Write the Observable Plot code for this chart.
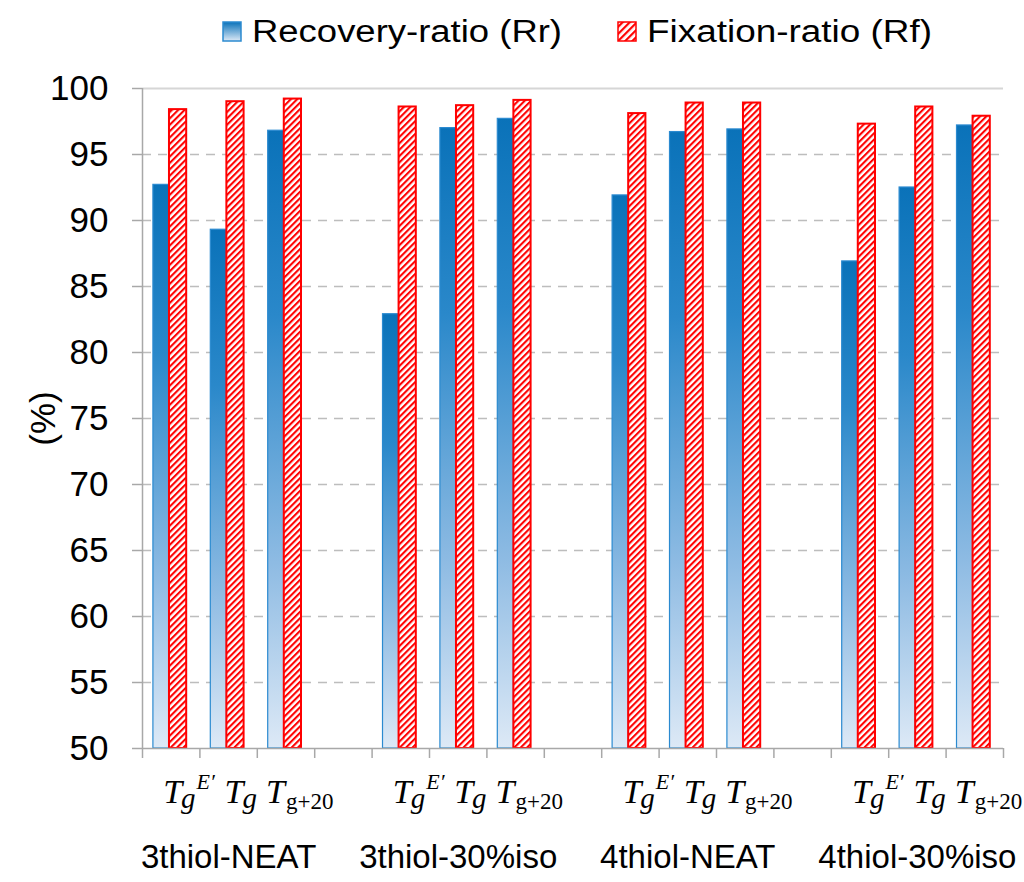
<!DOCTYPE html>
<html>
<head>
<meta charset="utf-8">
<script src="https://cdn.jsdelivr.net/npm/d3@7"></script>
<script src="https://cdn.jsdelivr.net/npm/@observablehq/plot@0.6"></script>
<style>
  body { margin: 0; background: #fff; font-family: "Liberation Sans", Arial, sans-serif; }
  #legend { height: 64px; }
</style>
</head>
<body>
<div id="legend"></div>
<div id="chart"></div>
<script>
// groups, conditions and the two ratios
const groups = ["3thiol-NEAT", "3thiol-30%iso", "4thiol-NEAT", "4thiol-30%iso"];
const condBase = ["T", "T", "T"];
const condSub = ["g", "g", "g+20"];
const condSup = ["E\u2032", "", ""];
const recovery = [
  [92.7, 89.3, 96.8],
  [82.9, 97.0, 97.7],
  [91.9, 96.7, 96.9],
  [86.9, 92.5, 97.2]
];
const fixation = [
  [98.4, 99.0, 99.2],
  [98.6, 98.7, 99.1],
  [98.1, 98.9, 98.9],
  [97.3, 98.6, 97.9]
];
const yTicks = [50, 55, 60, 65, 70, 75, 80, 85, 90, 95, 100];
const seriesNames = ["Recovery-ratio (Rr)", "Fixation-ratio (Rf)"];

// one slot per bar pair, plus an empty slot after each group
let rows = [];
groups.forEach((g, gi) => {
  condBase.forEach((c, ci) => {
    rows.push({group: g, cond: ci, slot: gi * 4 + ci, rr: recovery[gi][ci], rf: fixation[gi][ci]});
  });
});
let slotEdges = d3.range(0, 16);
let groupRows = groups.map((g, gi) => ({group: g, mid: gi * 4 + 1.5}));

let defs = () => {
  let d = d3.create("svg:defs");
  let lg = d.append("linearGradient").attr("id", "rrGrad")
    .attr("x1", 0).attr("y1", 0).attr("x2", 0).attr("y2", 1);
  lg.append("stop").attr("offset", 0).attr("stop-color", "#0a72b9");
  lg.append("stop").attr("offset", 0.3).attr("stop-color", "#2a88ca");
  lg.append("stop").attr("offset", 0.7).attr("stop-color", "#8ebbe3");
  lg.append("stop").attr("offset", 1).attr("stop-color", "#dde9f6");
  let p = d.append("pattern").attr("id", "rfHatch")
    .attr("patternUnits", "userSpaceOnUse")
    .attr("width", 4.5).attr("height", 4.5)
    .attr("patternTransform", "rotate(45)");
  p.append("rect").attr("width", 4.5).attr("height", 4.5).attr("fill", "#fff");
  p.append("line").attr("x1", 1).attr("y1", 0).attr("x2", 1).attr("y2", 4.5)
    .attr("stroke", "#ff0000").attr("stroke-width", 2.2);
  return d.node();
};

let chart = Plot.plot({
  width: 1024,
  height: 818,
  marginLeft: 142,
  marginRight: 21,
  marginTop: 24,
  marginBottom: 134,
  style: {fontFamily: "Liberation Sans, Arial, sans-serif", color: "#000", background: "#fff"},
  x: {domain: [0, 15], axis: null},
  y: {domain: [50, 100], axis: null},
  marks: [
    defs,
    Plot.ruleY(yTicks.filter(t => t > 50 && t < 100), {stroke: "#bdbdbd", strokeWidth: 1.5, strokeDasharray: "9,7"}),
    Plot.ruleY([100], {stroke: "#d6d6d6", strokeWidth: 2}),
    Plot.rectY(rows, {x1: d => d.slot + 0.19, x2: d => d.slot + 0.47, y1: 50, y2: "rr",
      fill: "url(#rrGrad)", stroke: "#2b8ad0", strokeWidth: 1.2}),
    Plot.rectY(rows, {x1: d => d.slot + 0.47, x2: d => d.slot + 0.77, y1: 50, y2: "rf",
      fill: "url(#rfHatch)", stroke: "#ff0000", strokeWidth: 2}),
    Plot.ruleX([0], {stroke: "#a8a8a8", strokeWidth: 1.5}),
    Plot.ruleY([50], {stroke: "#a8a8a8", strokeWidth: 1.5}),
    Plot.axisX({ticks: slotEdges, tickFormat: () => "", tickSize: 10, stroke: "#a8a8a8", strokeWidth: 1.5, label: null}),
    Plot.axisY({ticks: yTicks, tickSize: 10, tickPadding: 24, fontSize: 35, stroke: "#a8a8a8", strokeWidth: 1.5,
      label: "(%)", labelAnchor: "center", labelArrow: "none", labelOffset: 112}),
    Plot.text(rows, {x: d => d.slot + 0.5, text: d => condBase[d.cond], frameAnchor: "bottom",
      dy: 54, lineAnchor: "bottom", textAnchor: "start", fontSize: 34,
      fontFamily: "Liberation Serif, serif", fontStyle: "italic"}),
    Plot.text(groupRows, {x: "mid", text: "group", frameAnchor: "bottom", dy: 119,
      lineAnchor: "bottom", fontSize: 33})
  ]
});

// sub- and superscripts of the condition labels
let condTexts = d3.select(chart).selectAll("text").filter(function() { return this.textContent === "T"; });
condTexts.each(function(_, i) {
  let ci = rows[i].cond;
  let t = d3.select(this);
  t.attr("dx", [-8, -4, -20][ci]);
  let sub = t.append("tspan").attr("dy", ci === 2 ? 6 : 5).attr("dx", ci === 2 ? 1 : -1)
    .attr("font-size", ci === 2 ? 23 : 29).text(condSub[ci]);
  if (ci === 2) sub.attr("font-style", "normal");
  if (condSup[ci]) {
    t.append("tspan").attr("dy", -19).attr("dx", 1).attr("font-size", 22).text(condSup[ci]);
  }
});

d3.select("#chart").append(() => chart);

// legend above the plot
let leg = d3.select("#legend").append("svg").attr("width", 1024).attr("height", 64);
let ld = leg.append("defs");
let lg2 = ld.append("linearGradient").attr("id", "legGrad")
  .attr("x1", 0).attr("y1", 0).attr("x2", 0).attr("y2", 1);
lg2.append("stop").attr("offset", 0).attr("stop-color", "#0a72b9");
lg2.append("stop").attr("offset", 1).attr("stop-color", "#dde9f6");
let lp = ld.append("pattern").attr("id", "legHatch").attr("patternUnits", "userSpaceOnUse")
  .attr("width", 5).attr("height", 5).attr("patternTransform", "rotate(45)");
lp.append("rect").attr("width", 5).attr("height", 5).attr("fill", "#fff");
lp.append("line").attr("x1", 1).attr("y1", 0).attr("x2", 1).attr("y2", 5)
  .attr("stroke", "#ff0000").attr("stroke-width", 2.4);

leg.append("rect").attr("x", 223).attr("y", 22).attr("width", 18).attr("height", 19)
  .attr("fill", "url(#legGrad)").attr("stroke", "#2b8ad0").attr("stroke-width", 1.5);
leg.append("text").attr("x", 252).attr("y", 42).attr("font-size", 31)
  .attr("textLength", 310).attr("lengthAdjust", "spacingAndGlyphs").text(seriesNames[0]);
leg.append("rect").attr("x", 618).attr("y", 22).attr("width", 18).attr("height", 19)
  .attr("fill", "url(#legHatch)").attr("stroke", "#ff0000").attr("stroke-width", 1.5);
leg.append("text").attr("x", 647).attr("y", 42).attr("font-size", 31)
  .attr("textLength", 285).attr("lengthAdjust", "spacingAndGlyphs").text(seriesNames[1]);
</script>
</body>
</html>
